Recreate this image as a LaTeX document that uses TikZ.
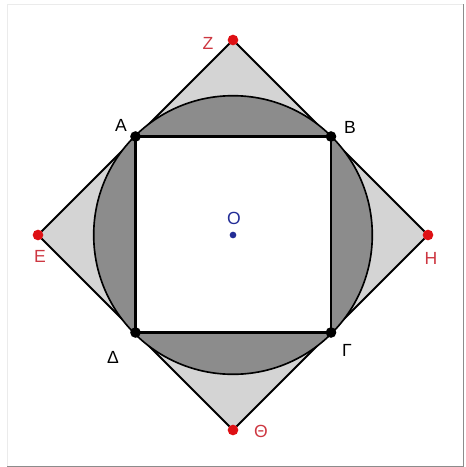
\documentclass[tikz,border=0pt]{standalone}
\usepackage{fontspec}
\setmainfont{Liberation Sans}
\definecolor{ptred}{RGB}{222,16,20}
\definecolor{lblred}{RGB}{205,55,65}
\definecolor{oblue}{RGB}{35,45,150}
\tikzset{
  blackpt/.style={circle,fill=black,inner sep=0pt,minimum size=0.32cm},
  redpt/.style={circle,fill=ptred,inner sep=0pt,minimum size=0.32cm},
  lbl/.style={font=\fontsize{15}{17}\selectfont,inner sep=0pt},
  redlbl/.style={lbl,text=lblred}
}

\begin{document}
\begin{tikzpicture}[x=0.03cm,y=-0.03cm]
\useasboundingbox (0,0) rectangle (465,467);
% frame
\draw[black!8,line width=0.5pt] (7,466) -- (7,4) -- (463,4);
\draw[black!45,line width=0.8pt] (463,4) -- (463,466) -- (7,466);
% points
\coordinate (O) at (233,235);
\coordinate (A) at (135.5,136.5);
\coordinate (B) at (331,136.5);
\coordinate (G) at (331,332.5);
\coordinate (D) at (135.5,332.5);
\coordinate (Z) at (233,40);
\coordinate (H) at (428,235);
\coordinate (Th) at (233,430);
\coordinate (E) at (38,235);
% shapes
\filldraw[fill=black!17,line width=1.6pt,line join=round] (E) -- (Z) -- (H) -- (Th) -- cycle;
\filldraw[fill=black!45,line width=1.4pt] (O) circle (139.3);
\filldraw[fill=white,line width=2.4pt] (A) -- (B) -- (G) -- (D) -- cycle;
\foreach \p in {A,B,G,D}{\node[blackpt] (p\p) at (\p) {};}
\foreach \p in {Z,H,Th,E}{\node[redpt] (p\p) at (\p) {};}
\node[circle,fill=oblue,inner sep=0pt,minimum size=0.2cm] (pO) at (O) {};
% labels
\node[lbl] (lA) at (121,125) {Α};
\node[lbl] (lB) at (350,127) {Β};
\node[lbl] (lG) at (347,350) {Γ};
\node[lbl] (lD) at (113,357) {Δ};
\node[redlbl] (lZ) at (208,43) {Ζ};
\node[redlbl] (lH) at (431,258) {Η};
\node[redlbl] (lTh) at (261,431) {Θ};
\node[redlbl] (lE) at (40,256) {Ε};
\node[lbl,text=oblue] (lO) at (234,218) {O};
\end{tikzpicture}
\end{document}
